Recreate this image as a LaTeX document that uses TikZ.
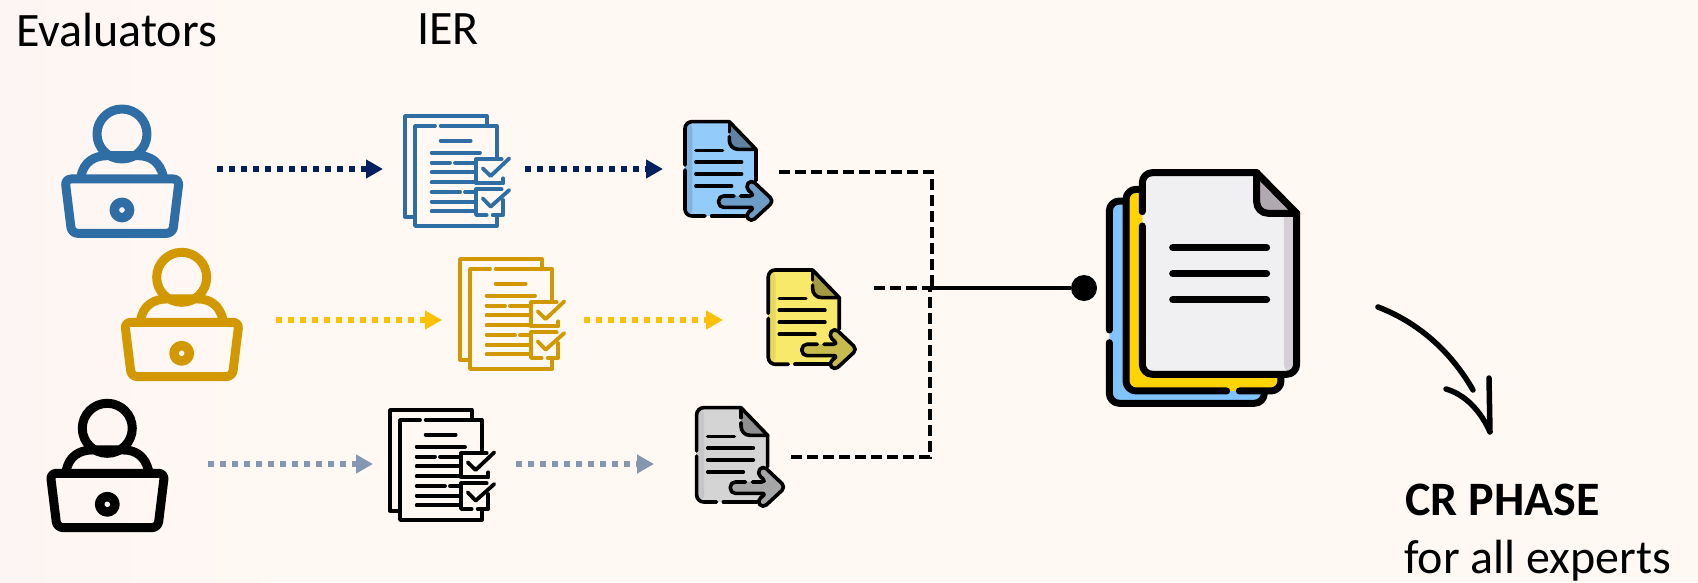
\documentclass[tikz,border=0pt]{standalone}
\usepackage{fontspec}
\setmainfont{Carlito}
\usetikzlibrary{arrows.meta}
\definecolor{paper}{HTML}{FFF8F3}
\definecolor{paperleft}{HTML}{FDF5F3}
\definecolor{userblue}{HTML}{2F6EA5}
\definecolor{usergold}{HTML}{D29800}
\definecolor{navyflow}{HTML}{002060}
\definecolor{goldflow}{HTML}{FFC000}
\definecolor{greyflow}{HTML}{8497B0}
\definecolor{bluepage}{HTML}{93CBFB}
\definecolor{blueband}{HTML}{7FB2E0}
\definecolor{bluefold}{HTML}{5F82A3}
\definecolor{bluetail}{HTML}{6D9DC6}
\definecolor{yellowpage}{HTML}{F9E96B}
\definecolor{yellowband}{HTML}{E8D95E}
\definecolor{yellowfold}{HTML}{A39A42}
\definecolor{yellowtail}{HTML}{C6BB4C}
\definecolor{greypage}{HTML}{D4D4D4}
\definecolor{greyband}{HTML}{C6C6C6}
\definecolor{greyfold}{HTML}{8F8F8F}
\definecolor{greytail}{HTML}{A6A6A6}
\definecolor{stackback}{HTML}{80C4FF}
\definecolor{stackmid}{HTML}{FFD400}
\definecolor{stackpage}{HTML}{F0EFF2}
\definecolor{stackband}{HTML}{D5D0D6}
\definecolor{stackfold}{HTML}{B0A9B0}
\tikzset{
	flow/.style={line width=6pt,dash pattern=on 6pt off 6pt,-{Triangle[length=17pt,width=18pt]}},
	link/.style={line width=4pt,dash pattern=on 11pt off 5pt},
	label/.style={inner sep=0pt,anchor=base west,font=\fontsize{48}{56}\selectfont}
}
% #1,#2 = where the icon's frame starts, #3 = colour
\def\laptopuser(#1,#2)[#3]{
	\begin{scope}[shift={(#1,#2)},scale=0.3333,draw=#3,line width=9pt,line join=round]
		\draw (366,162) circle (75pt);
		\draw (243,290) .. controls (250,245) and (285,227) .. (320,227) -- (415,227) .. controls (450,227) and (480,245) .. (490,290);
		\draw[rounded corners=6pt] (195,297) -- (538,297) -- (518,460) -- (215,460) -- cycle;
		\draw[line width=9.5pt] (366,390) circle (23pt);
	\end{scope}
}
\def\ierform(#1,#2)[#3]{
	\begin{scope}[shift={(#1,#2)},scale=0.3333,draw=#3,line width=3.8pt,line cap=round,line join=round]
		\draw (105,380) -- (75,380) -- (75,78) -- (320,78) -- (320,105);
		\draw (165,108) -- (105,108) -- (105,408) -- (350,408) -- (350,380);
		\draw (182,108) -- (350,108) -- (350,205);
		\draw (182,152) -- (272,152);
		\draw (155,188) -- (300,188);
		\draw (155,218) -- (210,218) (225,218) -- (285,218);
		\draw (155,247) -- (285,247);
		\draw (155,277) -- (285,277);
		\draw (155,306) -- (240,306) (255,306) -- (285,306);
		\draw (155,335) -- (285,335);
		\draw (155,364) -- (285,364);
		\draw (365,208) -- (288,208) -- (288,280) -- (370,280) -- (370,265);
		\draw (308,235) -- (332,258) -- (388,205);
		\draw (365,298) -- (288,298) -- (288,375) -- (320,375) (338,375) -- (370,375) -- (370,330);
		\draw (308,325) -- (332,350) -- (388,300);
	\end{scope}
}
\def\senddoc(#1,#2)[#3]{
	\begin{scope}[shift={(#1,#2)},scale=0.3333,line width=3.6pt,line cap=round,line join=round]
		\fill[#3page] (915,235) [rounded corners=7pt] -- (915,95) -- (1048,95) [sharp corners] -- (1128,178) -- (1128,378) [rounded corners=7pt] -- (915,378) -- cycle;
		\fill[#3band,rounded corners=7pt] (915,95) -- (937,95) -- (937,378) -- (915,378) -- cycle;
		\fill[#3fold] (1048,95) -- (1128,178) -- (1075,178) .. controls (1058,178) and (1048,165) .. (1048,150) -- cycle;
		\draw[rounded corners=7pt] (915,225) -- (915,95) -- (1048,95);
		\draw (1048,95) -- (1128,178) -- (1128,272);
		\draw[rounded corners=7pt] (915,240) -- (915,378) -- (975,378);
		\draw (995,378) -- (1095,378);
		\draw (1048,100) -- (1048,125);
		\draw (1048,140) -- (1048,150) .. controls (1048,165) and (1058,178) .. (1075,178) -- (1128,178);
		\draw (948,181) -- (1028,181);
		\draw (948,216) -- (1085,216);
		\draw (948,252) -- (1085,252);
		\draw (948,288) -- (1055,288);
		\fill[#3tail,rounded corners=5pt] (1125,318) -- (1095,292) -- (1113,268) -- (1182,333) -- (1113,397) -- (1095,374) -- (1125,352) -- (1016,352) -- (1016,318) -- cycle;
		\draw[rounded corners=5pt] (1082,318) -- (1125,318) -- (1095,292) -- (1113,268) -- (1182,333) -- (1113,397) -- (1095,374) -- (1125,352) -- (1016,352) -- (1016,318) -- (1062,318);
	\end{scope}
}

\begin{document}
\begin{tikzpicture}[x=1pt,y=-1pt]
	\useasboundingbox (0,0) rectangle (1698,582);
	\fill[paper] (0,0) rectangle (1698,582);
	\fill[left color=paperleft,right color=paper] (0,0) rectangle (260,582);

	%%%%% HEADINGS %%%%%
	\node[label] (evaluators) at (16,46) {Evaluators};
	\node[label] (ier) at (417,44) {IER};

	%%%%% ICONS %%%%%
	\laptopuser(0,80)[userblue]
	\laptopuser(59.7,223.3)[usergold]
	\laptopuser(-14.7,374.3)[black]

	\ierform(380,90)[userblue]
	\ierform(435,233)[usergold]
	\ierform(365,384)[black]

	\senddoc(380,90)[blue]
	\senddoc(463.3,238.3)[yellow]
	\senddoc(391.7,376)[grey]

	%%%%% FLOWS %%%%%
	\coordinate (userAout) at (217,169);
	\coordinate (ierAin) at (383,169);
	\coordinate (ierAout) at (525,169);
	\coordinate (docAin) at (663,169);
	\draw[flow,navyflow] (userAout) -- (ierAin);
	\draw[flow,navyflow] (ierAout) -- (docAin);

	\coordinate (userBout) at (276,320);
	\coordinate (ierBin) at (442,320);
	\coordinate (ierBout) at (584,320);
	\coordinate (docBin) at (723,320);
	\draw[flow,goldflow] (userBout) -- (ierBin);
	\draw[flow,goldflow] (ierBout) -- (docBin);

	\coordinate (userCout) at (208,464);
	\coordinate (ierCin) at (373,464);
	\coordinate (ierCout) at (516,464);
	\coordinate (docCin) at (654,464);
	\draw[flow,greyflow] (userCout) -- (ierCin);
	\draw[flow,greyflow] (ierCout) -- (docCin);

	%%%%% MERGE %%%%%
	\coordinate (docAout) at (779,171.5);
	\coordinate (cornerA) at (932,171.5);
	\coordinate (docBout) at (874,288);
	\coordinate (branchA) at (932,288);
	\coordinate (branchB) at (929.5,288);
	\coordinate (docCout) at (791,457);
	\coordinate (cornerC) at (929.5,457);
	\node[circle,fill=black,inner sep=0pt,minimum size=26pt] (joint) at (1084,288) {};
	\draw[link] (docAout) -- (cornerA) -- (branchA);
	\draw[link] (docBout) -- (branchB);
	\draw[link] (docCout) -- (cornerC) -- (branchB);
	\draw[line width=3.8pt] (branchB) -- (joint);

	%%%%% STACK %%%%%
	\begin{scope}[shift={(1080,150)},scale=0.3333,line width=7pt,line cap=round,line join=round]
		\fill[stackback,rounded corners=10pt] (88,153) rectangle (553,760);
		\draw[rounded corners=10pt] (88,540) -- (88,153) -- (140,153);
		\draw[rounded corners=10pt] (88,578) -- (88,760) -- (553,760) -- (553,730);
		\fill[stackmid,rounded corners=10pt] (138,118) rectangle (603,723);
		\draw[rounded corners=10pt] (185,118) -- (138,118) -- (138,723) -- (440,723);
		\draw[rounded corners=10pt] (478,723) -- (603,723) -- (603,680);
		\fill[stackpage,rounded corners=10pt] (187,225) -- (187,68) -- (530,68) [sharp corners] -- (650,190) [rounded corners=10pt] -- (650,673) -- (187,673) -- cycle;
		\fill[stackband,rounded corners=10pt] (612,150) [sharp corners] -- (650,190) [rounded corners=10pt] -- (650,673) -- (612,673) -- cycle;
		\fill[stackfold] (530,68) -- (650,190) -- (565,190) .. controls (545,190) and (530,175) .. (530,155) -- cycle;
		\draw[rounded corners=10pt] (187,185) -- (187,68) -- (530,68);
		\draw (530,68) -- (650,190);
		\draw[rounded corners=10pt] (650,190) -- (650,673) -- (187,673) -- (187,228);
		\draw (530,68) -- (530,155) .. controls (530,175) and (545,190) .. (565,190) -- (650,190);
		\draw (278,293) -- (560,293);
		\draw (278,371) -- (560,371);
		\draw (278,449) -- (560,449);
	\end{scope}

	%%%%% NEXT PHASE %%%%%
	\coordinate (stackout) at (1378,307);
	\coordinate (phasein) at (1473,390);
	\draw[line width=5.5pt,line cap=round] (stackout) .. controls (1417,322) and (1450,350) .. (phasein);
	\draw[line width=5.5pt,line cap=round,line join=round] (1489,378) -- (1490,432) .. controls (1478,405) and (1460,393) .. (1446,389);
	\node[label] (phase) at (1405,515) {\textbf{CR PHASE}};
	\node[label] (experts) at (1404,573) {for all experts};
\end{tikzpicture}
\end{document}
